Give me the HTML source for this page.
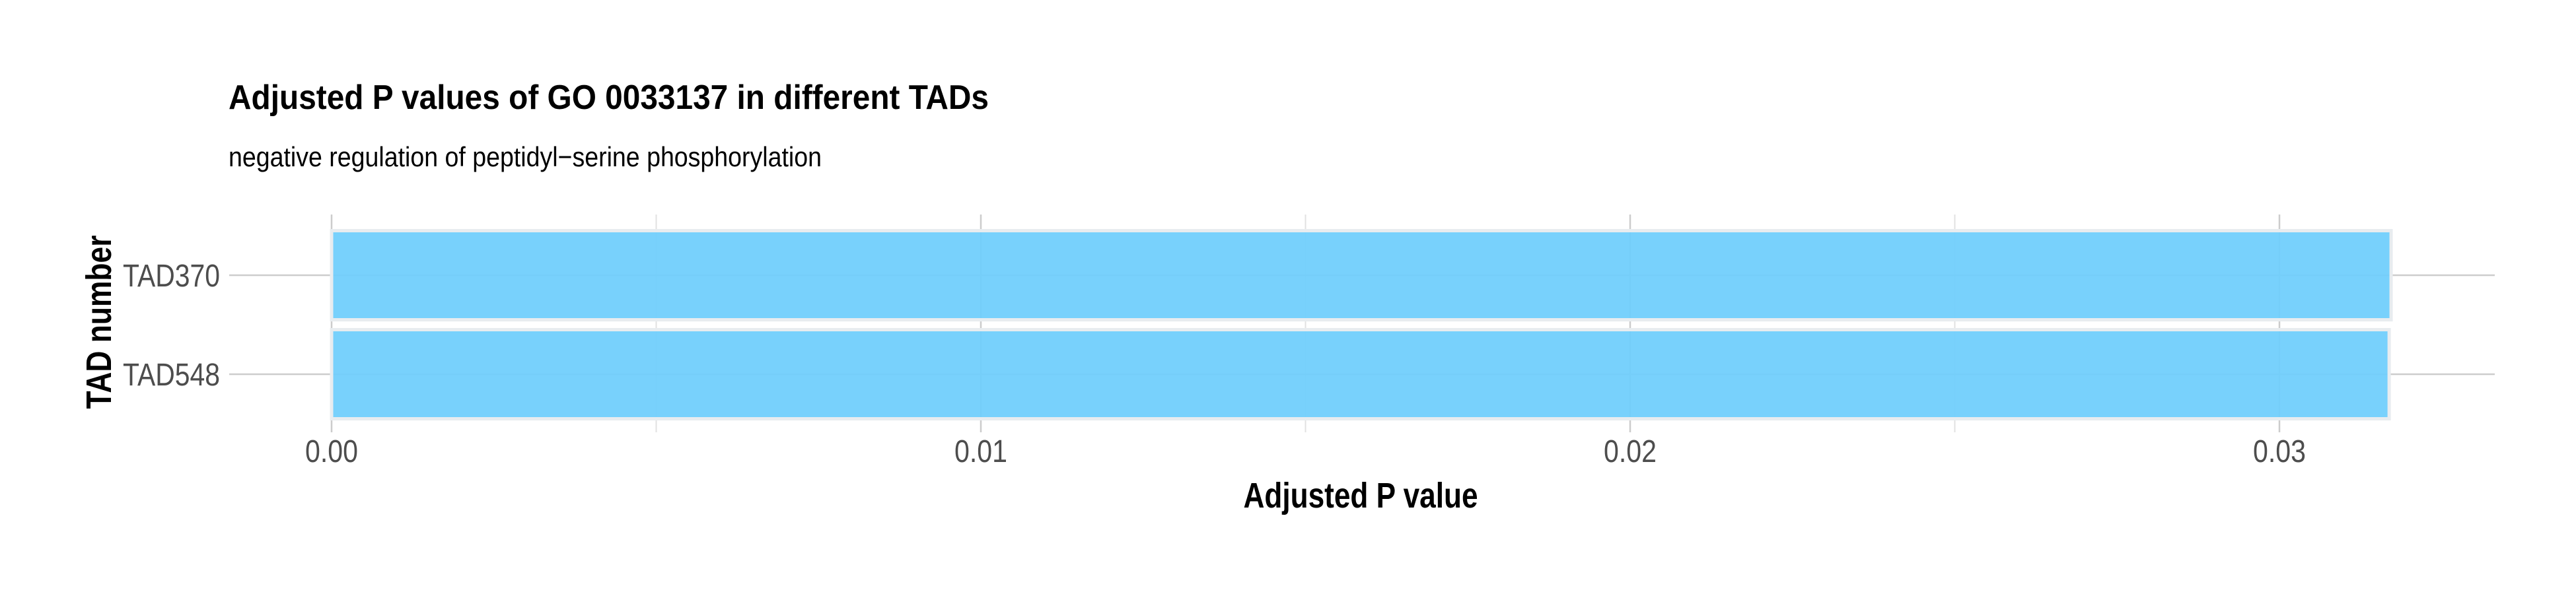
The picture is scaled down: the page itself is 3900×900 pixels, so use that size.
<!DOCTYPE html>
<html><head><meta charset="utf-8"><style>
html,body{margin:0;padding:0;background:#fff;}
svg{display:block;}
text{font-family:"Liberation Sans Narrow","Liberation Sans",sans-serif;}
</style></head><body>
<svg id="chart" width="3900" height="900" viewBox="0 0 3900 900" xmlns="http://www.w3.org/2000/svg">
<text x="346" y="165" font-size="52" font-weight="bold" fill="#000" textLength="1151" lengthAdjust="spacingAndGlyphs">Adjusted P values of GO 0033137 in different TADs</text>
<text x="346" y="252" font-size="42" fill="#000" textLength="898" lengthAdjust="spacingAndGlyphs">negative regulation of peptidyl−serine phosphorylation</text>
<g id="grid"></g>
<g id="bars"></g>
<g id="axes"></g>
<text x="2060" y="769" font-size="54" font-weight="bold" text-anchor="middle" fill="#000" textLength="355" lengthAdjust="spacingAndGlyphs">Adjusted P value</text>
<text transform="translate(168,488) rotate(-90)" font-size="54" font-weight="bold" text-anchor="middle" fill="#000" style="font-family:'Liberation Sans',sans-serif" textLength="263" lengthAdjust="spacingAndGlyphs">TAD number</text>
</svg>
<script>
const categories = ["TAD370", "TAD548"];
const values = [0.03172, 0.03169];
const xTicks = [0, 0.01, 0.02, 0.03];
const xTickLabels = ["0.00", "0.01", "0.02", "0.03"];
const xMinor = [0.005, 0.015, 0.025];

const NS = "http://www.w3.org/2000/svg";
const x0 = 502, pxPerUnit = 98300;
const panelTop = 325, panelBottom = 655, panelLeft = 347, panelRight = 3777;
const bandTop = 342, band = 150;
function xs(v){ return x0 + v * pxPerUnit; }
function ys(i){ return bandTop + band * i + band / 2; }
function mk(tag, attrs, parent){
  const e = document.createElementNS(NS, tag);
  for (const k in attrs) e.setAttribute(k, attrs[k]);
  parent.appendChild(e);
  return e;
}
const grid = document.getElementById('grid');
const bars = document.getElementById('bars');
const axes = document.getElementById('axes');

xMinor.forEach(v => {
  const l = mk('line', {x1: xs(v), x2: xs(v), y1: panelTop, y2: panelBottom, stroke: '#e2e2e2', 'stroke-width': 2}, grid);
  
  
});
xTicks.forEach((v, i) => {
  const l = mk('line', {x1: xs(v), x2: xs(v), y1: panelTop, y2: panelBottom, stroke: '#cccccc', 'stroke-width': 2.5}, grid);
  
  
  const t = mk('text', {x: xs(v), y: 700, 'font-size': 48, fill: '#4d4d4d', 'text-anchor': 'middle', textLength: 80, lengthAdjust: 'spacingAndGlyphs'}, axes);
  t.textContent = xTickLabels[i];
  
  
});
categories.forEach((c, i) => {
  const y = ys(i);
  const l = mk('line', {x1: panelLeft, x2: panelRight, y1: y, y2: y, stroke: '#cccccc', 'stroke-width': 2.5}, grid);
  
  
  const h = band * 0.9;
  const r = mk('rect', {x: xs(0), y: y - h / 2, width: xs(values[i]) - xs(0), height: h, fill: 'rgba(112,206,252,0.94)', stroke: '#e8ecef', 'stroke-width': 5}, bars);
  
  
  const t = mk('text', {x: 333, y: y + 17, 'font-size': 48, fill: '#4d4d4d', 'text-anchor': 'end', textLength: 147, lengthAdjust: 'spacingAndGlyphs'}, axes);
  t.textContent = c;
  
  
});
</script>
</body></html>
